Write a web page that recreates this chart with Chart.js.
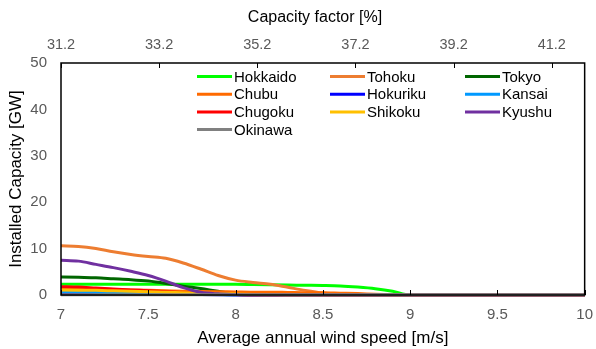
<!DOCTYPE html>
<html>
<head>
<meta charset="utf-8">
<script src="https://cdn.jsdelivr.net/npm/chart.js@4"></script>
<style>
html,body{margin:0;padding:0;background:#fff;}
#wrap{width:596px;height:349px;position:relative;}
</style>
</head>
<body>
<div id="wrap"><canvas id="c" width="596" height="349"></canvas></div>
<script>
// ---- data ----
const windSpeed = [7.0,7.1,7.2,7.3,7.4,7.5,7.6,7.7,7.8,7.9,8.0,8.1,8.2,8.3,8.4,8.5,8.6,8.7,8.8,8.9,9.0,9.1,9.2,9.3,9.4,9.5,9.6,9.7,9.8,9.9,10.0];
const regionNames = ["Hokkaido","Tohoku","Tokyo","Chubu","Hokuriku","Kansai","Chugoku","Shikoku","Kyushu","Okinawa"];
const hokkaido = [2.3,2.3,2.3,2.3,2.3,2.3,2.3,2.3,2.3,2.3,2.3,2.25,2.2,2.15,2.1,2.05,1.95,1.7,1.35,0.8,0,0,0,0,0,0,0,0,0,0,0];
const tohoku   = [10.6,10.45,10.0,9.3,8.75,8.3,7.9,6.9,5.6,4.2,3.2,2.7,2.3,1.65,1.0,0.45,0.1,0,0,0,0,0,0,0,0,0,0,0,0,0,0];
const tokyo    = [3.9,3.8,3.7,3.5,3.3,3.0,2.5,1.9,1.4,0.8,0.3,0.1,0,0,0,0,0,0,0,0,0,0,0,0,0,0,0,0,0,0,0];
const chubu    = [1.5,1.4,1.3,1.2,1.1,1.0,0.9,0.8,0.75,0.7,0.65,0.6,0.6,0.55,0.5,0.5,0.4,0.3,0.15,0.05,0,0,0,0,0,0,0,0,0,0,0];
const hokuriku = [0.5,0.45,0.4,0.35,0.3,0.25,0.2,0.15,0.1,0.05,0,0,0,0,0,0,0,0,0,0,0,0,0,0,0,0,0,0,0,0,0];
const kansai   = [0.75,0.7,0.6,0.5,0.45,0.35,0.3,0.2,0.15,0.1,0.05,0,0,0,0,0,0,0,0,0,0,0,0,0,0,0,0,0,0,0,0];
const chugoku  = [1.8,1.7,1.5,1.3,1.1,0.9,0.7,0.5,0.35,0.2,0.1,0,0,0,0,0,0,0,0,0,0,0,0,0,0,0,0,0,0,0,0];
const shikoku  = [1.1,1.05,1.0,0.9,0.8,0.7,0.6,0.5,0.4,0.3,0.2,0.1,0.05,0,0,0,0,0,0,0,0,0,0,0,0,0,0,0,0,0,0];
const kyushu   = [7.5,7.3,6.6,5.9,5.1,4.2,3.0,1.6,0.6,0.25,0.1,0,0,0,0,0,0,0,0,0,0,0,0,0,0,0,0,0,0,0,0];
const okinawa  = [0.05,0.05,0.05,0.05,0.05,0.05,0.05,0.05,0.05,0.05,0.05,0.05,0.05,0.05,0.05,0.05,0.05,0.05,0.05,0.05,0.05,0.05,0.05,0.05,0.05,0.05,0.05,0.05,0.05,0.05,0.05];
const seriesValues = [hokkaido,tohoku,tokyo,chubu,hokuriku,kansai,chugoku,shikoku,kyushu,okinawa];
const seriesColors = ["#00FF00","#ED7D31","#006600","#FF6A00","#0000FF","#0099FF","#FF0000","#FFC000","#7030A0","#808080"];
const capacityTicks = [31.2,33.2,35.2,37.2,39.2,41.2];
const capacityMin = 31.2, capacityMax = 41.87;
const yTicksMax = 50;
const topTitle = 'Capacity factor [%]';

const FONT = "'Liberation Sans', Arial, sans-serif";

const datasets = regionNames.map((name,i)=>({
  label: name,
  data: windSpeed.map((x,j)=>({x:x, y:seriesValues[i][j]})),
  borderColor: seriesColors[i],
  backgroundColor: seriesColors[i],
  borderWidth: 3,
  pointRadius: 0,
  tension: 0.4,
  cubicInterpolationMode: 'monotone',
  fill: false,
  clip: 6,
  order: regionNames.length - i,
  xAxisID: 'x'
}));

const framePlugin = {
  id: 'frame',
  afterDraw(chart){
    const ctx = chart.ctx, a = chart.chartArea;
    const sx = chart.scales.x, sx2 = chart.scales.x2;
    ctx.save();
    ctx.strokeStyle = '#000';
    ctx.lineWidth = 1.5;
    ctx.strokeRect(a.left, a.top, a.right - a.left, a.bottom - a.top);
    ctx.lineWidth = 1;
    ctx.beginPath();
    sx.ticks.forEach(t=>{ const p = Math.round(sx.getPixelForValue(t.value))+0.5; ctx.moveTo(p, a.bottom); ctx.lineTo(p, a.bottom-5); });
    sx2.ticks.forEach(t=>{ const p = Math.round(sx2.getPixelForValue(t.value))+0.5; ctx.moveTo(p, a.top); ctx.lineTo(p, a.top+5); });
    ctx.stroke();
    // top axis title
    ctx.font = "16px " + FONT;
    ctx.fillStyle = '#000';
    ctx.textAlign = 'center';
    ctx.textBaseline = 'middle';
    ctx.fillText(topTitle, a.left + 254, 18);
    // legend in 3 columns
    const colX = [136, 269, 404];
    const rowY = [13.5, 31.2, 48.9, 66.6];
    ctx.font = "15px " + FONT;
    ctx.textBaseline = 'middle';
    ctx.textAlign = 'left';
    chart.data.datasets.forEach((ds,i)=>{
      const c = i % 3, r = Math.floor(i/3);
      const x = a.left + colX[c], y = a.top + rowY[r];
      ctx.strokeStyle = ds.borderColor;
      ctx.lineWidth = 3;
      ctx.beginPath(); ctx.moveTo(x, y); ctx.lineTo(x+35, y); ctx.stroke();
      ctx.fillStyle = '#000';
      ctx.fillText(ds.label, x+37, y+1);
    });
    ctx.restore();
  }
};

new Chart(document.getElementById('c'), {
  type: 'line',
  data: { datasets },
  options: {
    responsive: false,
    devicePixelRatio: 1,
    animation: false,
    layout: { padding: { right: 7, left: 0, top: 0, bottom: 0 } },
    plugins: { legend: { display: false }, tooltip: { enabled: false } },
    scales: {
      x: {
        type: 'linear', position: 'bottom', min: 7, max: 10,
        ticks: { stepSize: 0.5, color: '#595959', font: { family: FONT, size: 15 }, padding: 3, maxRotation: 0, autoSkip: false, callback: v => String(Number(v)) },
        grid: { display: false },
        border: { display: false },
        title: { display: true, text: 'Average annual wind speed [m/s]', color: '#000', font: { family: FONT, size: 17 }, padding: { top: 2, bottom: 0 } },
        afterFit(s){ s.height = 54; }
      },
      x2: {
        type: 'linear', position: 'top', min: capacityMin, max: capacityMax,
        afterBuildTicks(s){ s.ticks = capacityTicks.map(v=>({value:v})); },
        ticks: { color: '#595959', font: { family: FONT, size: 14.5 }, padding: 1, maxRotation: 0, autoSkip: false, callback: v => Number(v).toFixed(1) },
        grid: { display: false },
        border: { display: false },
        title: { display: false },
        afterFit(s){ s.height = 63; }
      },
      y: {
        type: 'linear', min: 0, max: yTicksMax,
        ticks: { stepSize: 10, color: '#595959', font: { family: FONT, size: 15 }, padding: 6 },
        grid: { display: false },
        border: { display: false },
        title: { display: true, text: 'Installed Capacity [GW]', color: '#000', font: { family: FONT, size: 17 }, padding: { top: 6, bottom: 2 } },
        afterFit(s){ s.width = 61; }
      }
    }
  },
  plugins: [framePlugin]
});
</script>
</body>
</html>
